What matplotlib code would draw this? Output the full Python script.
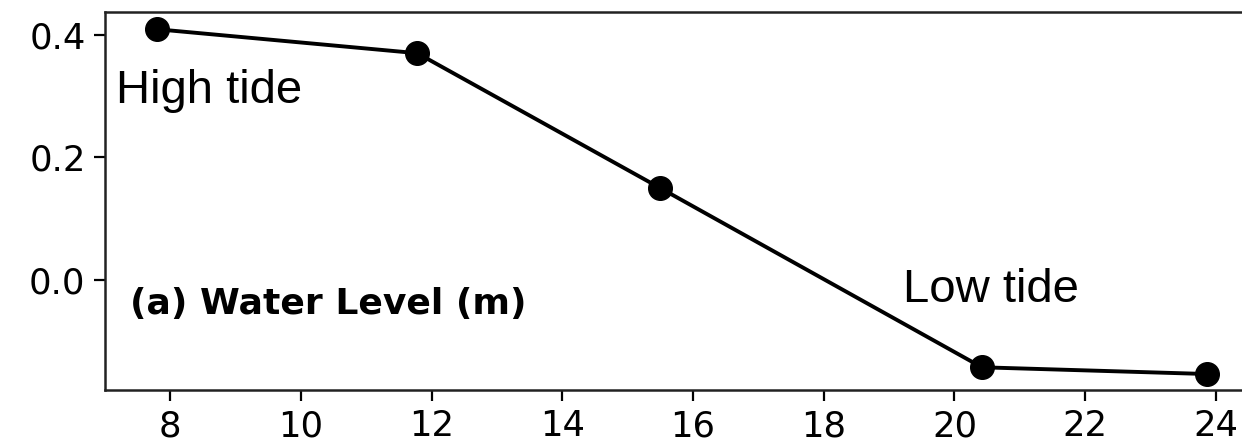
import matplotlib
matplotlib.use('Agg')
import matplotlib.pyplot as plt

plt.rcParams['font.family'] = ['DejaVu Sans']

# 潮位データ
hours = [7.8, 11.78, 15.5, 20.42, 23.87]
water_level = [0.409, 0.37, 0.15, -0.142, -0.153]
x_ticks = [8, 10, 12, 14, 16, 18, 20, 22, 24]
y_ticks = [0.0, 0.2, 0.4]

fig = plt.figure(figsize=(12.42, 4.48), dpi=100)
ax = fig.add_axes([0.0845, 0.1295, 1.0105 - 0.0845, 0.973 - 0.1295])

ax.plot(hours, water_level, color='black', linewidth=2.8,
        marker='o', markersize=17)

ax.set_xlim(7.0, 24.6)
ax.set_ylim(-0.179, 0.437)
ax.set_xticks(x_ticks)
ax.set_yticks(y_ticks)
ax.set_yticklabels([f'{v:.1f}' for v in y_ticks])
ax.tick_params(labelsize=25.5, length=8, width=1.6, pad=6)
for s in ax.spines.values():
    s.set_linewidth(1.8)
    s.set_color('#222222')

# 注釈
ax.text(7.17, 0.289, 'High tide', fontsize=34, family='Liberation Sans',
        ha='left', va='baseline')
ax.text(19.21, -0.036, 'Low tide', fontsize=34, family='Liberation Sans',
        ha='left', va='baseline')
ax.text(0.0217, 0.2, '(a) Water Level (m)', transform=ax.transAxes,
        fontsize=26, fontweight='bold', ha='left', va='baseline')

fig.savefig('out.png', dpi=100)
